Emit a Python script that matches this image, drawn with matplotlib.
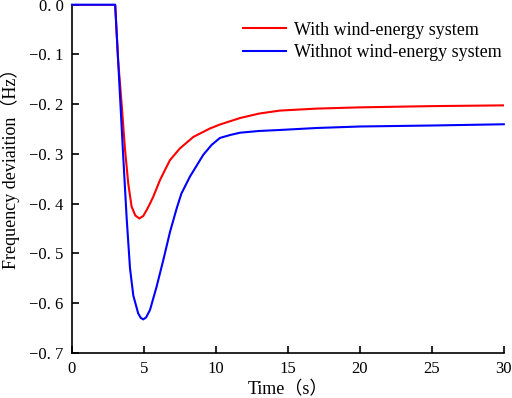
import numpy as np
import matplotlib
matplotlib.use("Agg")
import matplotlib.pyplot as plt
from matplotlib.ticker import FuncFormatter

plt.rcParams['font.family'] = ['Liberation Serif', 'Noto Sans CJK SC', 'DejaVu Sans']

# values
t_with = [0, 3.0, 3.2, 3.45, 3.68, 3.91, 4.14, 4.4, 4.68, 4.95, 5.19, 5.42, 5.65,
          6.11, 6.45, 6.81, 7.5, 8.43, 9.58, 10.28, 11.67, 13.0, 14.44, 17.0,
          20.0, 25.0, 30.0]
f_with = [0, 0, -0.11, -0.20, -0.29, -0.36, -0.406, -0.424, -0.430, -0.425,
          -0.413, -0.40, -0.386, -0.353, -0.333, -0.3125, -0.289, -0.266, -0.249,
          -0.241, -0.228, -0.219, -0.213, -0.209, -0.2065, -0.204, -0.2025]

t_without = [0, 3.0, 3.33, 3.55, 3.8, 4.03, 4.26, 4.6, 4.78, 4.95, 5.15, 5.42,
             5.88, 6.34, 6.81, 7.27, 7.6, 8.19, 9.12, 9.7, 10.28, 11.0, 11.67,
             13.0, 14.44, 17.0, 20.0, 25.0, 30.0]
f_without = [0, 0, -0.18, -0.30, -0.43, -0.53, -0.585, -0.621, -0.630, -0.633,
             -0.629, -0.614, -0.567, -0.514, -0.457, -0.41, -0.38, -0.346, -0.302,
             -0.282, -0.268, -0.262, -0.2575, -0.254, -0.252, -0.248, -0.245,
             -0.243, -0.2405]

labels = ['With wind-energy system', 'Withnot wind-energy system']
x_ticks = [0, 5, 10, 15, 20, 25, 30]
y_ticks = [0.0, -0.1, -0.2, -0.3, -0.4, -0.5, -0.6, -0.7]

fig = plt.figure(figsize=(5.12, 3.98), dpi=100)
ax = fig.add_axes([0.1406, 0.1138, 0.8434, 0.8744])

ax.plot(t_with, f_with, color='#ff0000', lw=1.5, label=labels[0], zorder=3)
ax.plot(t_without, f_without, color='#0000ff', lw=1.5, label=labels[1], zorder=3,
        clip_on=False)

ax.set_xlim(0, 30)
ax.set_ylim(-0.7, 0.0)
ax.set_xticks(x_ticks)
ax.set_yticks(y_ticks)


def fmt_y(v, pos):
    s = "%.1f" % abs(v)
    s = s.replace('.', '. ')
    return ('\u2212' + s) if v < -1e-9 else s


ax.yaxis.set_major_formatter(FuncFormatter(fmt_y))

for side in ['top', 'right']:
    ax.spines[side].set_visible(False)
for side in ['left', 'bottom']:
    ax.spines[side].set_linewidth(1.2)
ax.tick_params(direction='in', length=5, width=1.2, labelsize=12, pad=6)

ax.set_xlabel('Time\uff08s\uff09', fontsize=13, labelpad=3)
ax.set_ylabel('Frequency deviaition\uff08Hz\uff09', fontsize=13)
ax.yaxis.set_label_coords(-0.12, 0.54)

ax.legend(loc='upper right', bbox_to_anchor=(1.032, 0.998), frameon=False,
          fontsize=13, handlelength=2.4, handletextpad=0.4, labelspacing=0.3)

fig.savefig('out.png', dpi=100)
